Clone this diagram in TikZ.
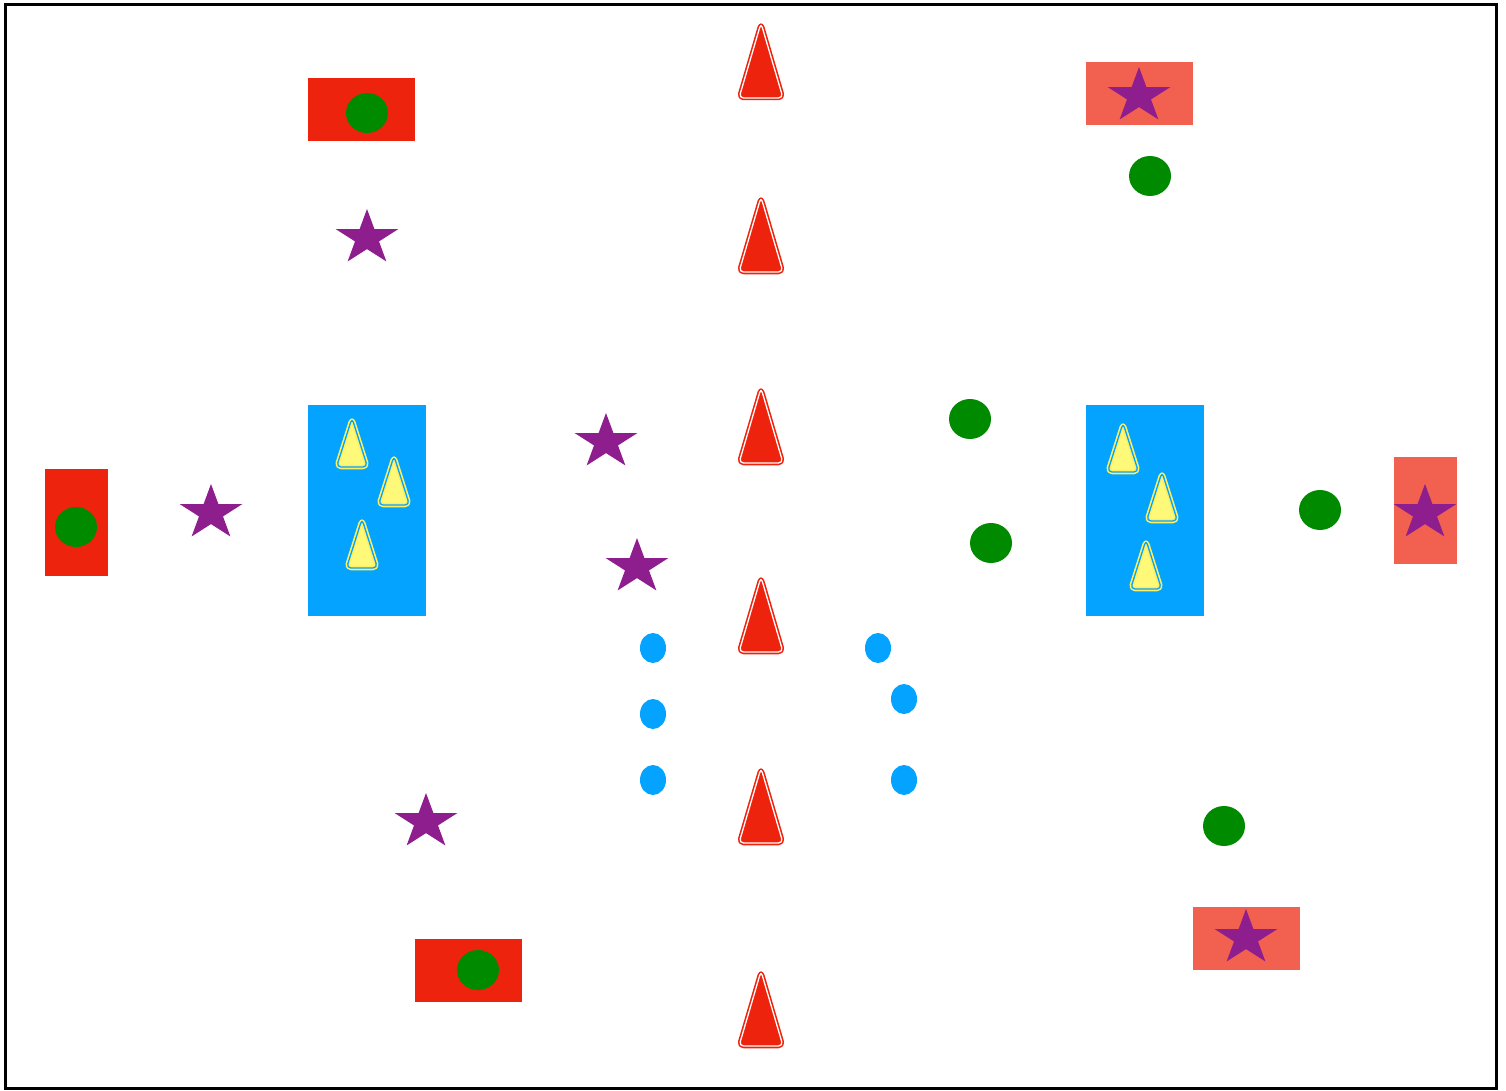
\documentclass[tikz,border=0pt]{standalone}
\usetikzlibrary{calc}
\definecolor{conered}{HTML}{EE230E}
\definecolor{salmon}{HTML}{F26150}
\definecolor{starc}{HTML}{8E1E8E}
\definecolor{ballg}{HTML}{008A00}
\definecolor{skyb}{HTML}{03A3FF}
\definecolor{yell}{HTML}{FFF97A}
\definecolor{yelledge}{HTML}{FFF060}
% #1 x, #2 apex y, #3 width, #4 height, #5 fill, #6 edge, #7 gap colour
\newcommand\mkcone[7]{%
  \path[fill=#5,draw=#6,line width=4.5pt,rounded corners=4.5pt,line join=round]
    (#1,#2) -- ({#1+#3/2},{#2+#4}) -- ({#1-#3/2},{#2+#4}) -- cycle;
  \draw[draw=#7,line width=1.3pt,rounded corners=4.5pt,line join=round]
    (#1,#2) -- ({#1+#3/2},{#2+#4}) -- ({#1-#3/2},{#2+#4}) -- cycle;}
\newcommand\mkstar[2]{%
  \fill[starc] plot[samples at={0,1,...,9}, variable=\k]
    ({#1+ifthenelse(mod(\k,2)==0,33,12.6)*cos(90+36*\k)},
     {#2-ifthenelse(mod(\k,2)==0,29,11.1)*sin(90+36*\k)}) -- cycle;}
\newcommand\mkball[2]{\fill[ballg] (#1,#2) ellipse [x radius=21, y radius=20];}
\newcommand\mkdot[2]{\fill[skyb] (#1,#2) ellipse [x radius=13, y radius=15];}
\begin{document}
\begin{tikzpicture}[x=1pt,y=-1pt]
\useasboundingbox (0,0) rectangle (1506,1091);
\fill[white] (0,0) rectangle (1506,1091);
\draw[line width=3pt] (5.5,4.5) rectangle (1496.5,1088.5);
% blue zones
\fill[skyb] (308,405) rectangle (426,616);
\fill[skyb] (1086,405) rectangle (1204,616);
% red boxes with balls
\fill[conered] (308,78) rectangle (415,141);
\fill[conered] (45,469) rectangle (108,576);
\fill[conered] (415,939) rectangle (522,1002);
\mkball{367}{113}
\mkball{76}{527}
\mkball{478}{970}
% salmon boxes with stars
\fill[salmon] (1086,62) rectangle (1193,125);
\fill[salmon] (1394,457) rectangle (1457,564);
\fill[salmon] (1193,907) rectangle (1300,970);
\mkstar{1139}{96}
\mkstar{1425}{513}
\mkstar{1246}{938}
% free stars
\mkstar{367}{238}
\mkstar{211}{513}
\mkstar{606}{442}
\mkstar{637}{567}
\mkstar{426}{822}
% free balls
\mkball{1150}{176}
\mkball{970}{419}
\mkball{991}{543}
\mkball{1320}{510}
\mkball{1224}{826}
% blue dots
\mkdot{653}{648}
\mkdot{653}{714}
\mkdot{653}{780}
\mkdot{878}{648}
\mkdot{904}{699}
\mkdot{904}{780}
% red cones
\foreach \t in {23,197,388,577,768,971}{\mkcone{761}{\t}{44}{75}{conered}{conered}{white}}
% yellow cones
\mkcone{352}{418}{31}{49}{yell}{yelledge}{skyb}
\mkcone{394}{456}{31}{49}{yell}{yelledge}{skyb}
\mkcone{362}{519}{31}{49}{yell}{yelledge}{skyb}
\mkcone{1123}{423}{31}{49}{yell}{yelledge}{skyb}
\mkcone{1162}{472}{31}{49}{yell}{yelledge}{skyb}
\mkcone{1146}{540}{31}{49}{yell}{yelledge}{skyb}
\end{tikzpicture}
\end{document}
